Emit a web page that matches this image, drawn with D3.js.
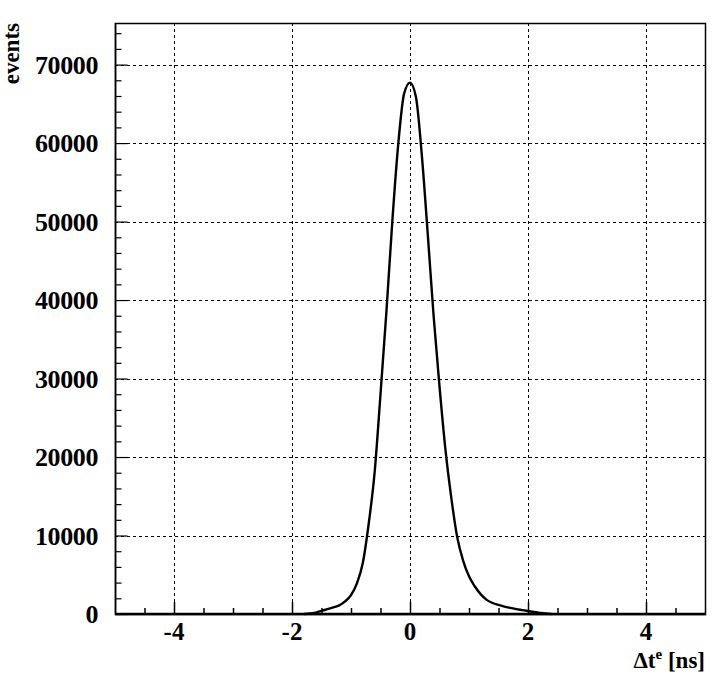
<!DOCTYPE html>
<html lang="en">
<head>
<meta charset="UTF-8">
<title>events vs dt</title>
<script src="https://d3js.org/d3.v7.min.js"></script>
<style>
  body { margin: 0; background: #fff; }
  text { font-family: "Liberation Serif", "Times New Roman", serif; font-weight: bold; }
</style>
</head>
<body>
<script>
// bin centres [ns] and counts
var dtBins = [-1.8, -1.7, -1.6, -1.5, -1.4, -1.3, -1.2, -1.1, -1.0, -0.9,
              -0.8, -0.7, -0.6, -0.5, -0.4, -0.3, -0.2, -0.1, 0.0, 0.1,
              0.2, 0.3, 0.4, 0.5, 0.6, 0.7, 0.8, 0.9, 1.0, 1.1,
              1.2, 1.3, 1.4, 1.5, 1.6, 1.7, 1.8, 1.9, 2.0, 2.1,
              2.2, 2.3, 2.4];
var counts = [0, 60, 180, 400, 620, 850, 1100, 1600, 2400, 3900,
              6500, 11500, 18000, 28000, 38500, 50000, 59800, 66300, 67700, 65900,
              58500, 48500, 38000, 29000, 21000, 14800, 9800, 6800, 4800, 3500,
              2500, 1800, 1400, 1150, 950, 780, 620, 500, 380, 250,
              150, 60, 0];
var xTicks = [-4, -2, 0, 2, 4];
var yTicks = [0, 10000, 20000, 30000, 40000, 50000, 60000, 70000];

var W = 728, H = 678;
var pLeft = 115, pRight = 705, pTop = 23, pBottom = 614;

var svg = d3.select("body").append("svg")
    .attr("width", W).attr("height", H);

var x = d3.scaleLinear().domain([-5, 5]).range([pLeft, pRight]);
var y = d3.scaleLinear().domain([0, 75300]).range([pBottom, pTop]);

// grid
svg.selectAll(".vgrid").data(xTicks).enter().append("line")
    .attr("x1", function(d){ return Math.round(x(d)) + 0.5; })
    .attr("x2", function(d){ return Math.round(x(d)) + 0.5; })
    .attr("y1", pTop).attr("y2", pBottom)
    .attr("stroke", "#000").attr("stroke-width", 1)
    .attr("stroke-dasharray", "3,3");
svg.selectAll(".hgrid").data(yTicks.slice(1)).enter().append("line")
    .attr("y1", function(d){ return Math.round(y(d)) + 0.5; })
    .attr("y2", function(d){ return Math.round(y(d)) + 0.5; })
    .attr("x1", pLeft).attr("x2", pRight)
    .attr("stroke", "#000").attr("stroke-width", 1)
    .attr("stroke-dasharray", "3,3");

// frame
svg.append("rect")
    .attr("x", pLeft + 0.5).attr("y", pTop + 0.5)
    .attr("width", pRight - pLeft).attr("height", pBottom - pTop)
    .attr("fill", "none").attr("stroke", "#000").attr("stroke-width", 1.5);

// axes (ticks point inside)
var xAxis = d3.axisTop(x).tickValues(xTicks).tickSize(12).tickFormat("");
var xMinor = d3.axisTop(x).tickValues(d3.range(-4.5, 5, 0.5).filter(function(v){ return v % 2 !== 0; }))
    .tickSize(6).tickFormat("");
var gx = svg.append("g").attr("transform", "translate(0," + pBottom + ")");
gx.call(xAxis);
gx.append("g").call(xMinor);
gx.selectAll(".domain").remove();
gx.selectAll("line").attr("stroke", "#000").attr("stroke-width", 1.5);
svg.append("line").attr("x1", pLeft).attr("x2", pRight + 1)
    .attr("y1", pBottom).attr("y2", pBottom)
    .attr("stroke", "#000").attr("stroke-width", 2.5);

var yAxis = d3.axisRight(y).tickValues(yTicks).tickSize(12).tickFormat("");
var yMinor = d3.axisRight(y).tickValues(d3.range(2000, 75000, 2000).filter(function(v){ return v % 10000 !== 0; }))
    .tickSize(6).tickFormat("");
var gy = svg.append("g").attr("transform", "translate(" + (pLeft + 0.5) + ",0)");
gy.call(yAxis);
gy.append("g").call(yMinor);
gy.selectAll(".domain").remove();
gy.selectAll("line").attr("stroke", "#000").attr("stroke-width", 1.2);
svg.append("line").attr("x1", pLeft + 0.5).attr("x2", pLeft + 0.5)
    .attr("y1", pTop).attr("y2", pBottom)
    .attr("stroke", "#000").attr("stroke-width", 1.5);

// tick labels
svg.selectAll(".xl").data(xTicks).enter().append("text")
    .attr("x", function(d){ return x(d); })
    .attr("y", 640)
    .attr("text-anchor", "middle")
    .attr("font-size", 25)
    .text(function(d){ return d; });
svg.selectAll(".yl").data(yTicks).enter().append("text")
    .attr("x", 98)
    .attr("y", function(d){ return y(d) + 9; })
    .attr("text-anchor", "end")
    .attr("font-size", 26)
    .attr("letter-spacing", -0.4)
    .text(function(d){ return d; });

// axis titles
svg.append("text")
    .attr("transform", "translate(19," + pTop + ") rotate(-90)")
    .attr("text-anchor", "end")
    .attr("font-size", 23)
    .text("events");
var xt = svg.append("text")
    .attr("x", pRight).attr("y", 668)
    .attr("text-anchor", "end")
    .attr("font-size", 23);
xt.append("tspan").text("\u0394t");
xt.append("tspan").attr("dy", -9).attr("font-size", 15).text("e");
xt.append("tspan").attr("dy", 9).text(" [ns]");

// histogram curve
var line = d3.line()
    .x(function(d, i){ return x(dtBins[i]); })
    .y(function(d){ return y(d); })
    .curve(d3.curveMonotoneX);
svg.append("path")
    .datum(counts)
    .attr("d", line)
    .attr("fill", "none")
    .attr("stroke", "#000")
    .attr("stroke-width", 2.4);
</script>
</body>
</html>
